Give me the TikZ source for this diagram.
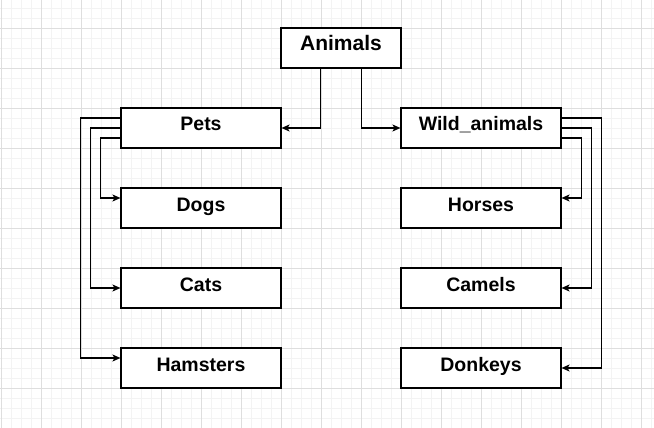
\documentclass[tikz,border=0pt]{standalone}
\usepackage{fontspec}
\setmainfont{Liberation Sans}
\usepackage{xcolor}
\usepackage{tikz}
\usetikzlibrary{arrows.meta}
\usetikzlibrary{calc}

\definecolor{gridminor}{HTML}{F3F3F3}
\definecolor{gridmajor}{HTML}{DEDEDE}

\tikzset{
    box/.style={draw, line width=1.1pt, fill=white, minimum width=160pt, minimum height=40pt, inner sep=0pt,
        text height=10pt, text depth=4pt, font=\bfseries\fontsize{19.5}{23}\selectfont},
    link/.style={line width=1.1pt, -{Stealth[length=8pt,width=7pt,inset=2pt]}},
}

\begin{document}
\begin{tikzpicture}[x=1pt, y=-1pt]
    \useasboundingbox (0,0) rectangle (654,428);
    \fill[white] (0,0) rectangle (654,428);

    \foreach \gx in {1,11,...,651} \draw[gridminor, line width=0.8pt] (\gx,0) -- (\gx,428);
    \foreach \gy in {8,18,...,428} \draw[gridminor, line width=0.8pt] (0,\gy) -- (654,\gy);
    \foreach \gx in {1,41,...,651} \draw[gridmajor, line width=0.8pt] (\gx,0) -- (\gx,428);
    \foreach \gy in {28,68,...,428} \draw[gridmajor, line width=0.8pt] (0,\gy) -- (654,\gy);

    \node[box, minimum width=120pt, font=\bfseries\fontsize{21}{25}\selectfont] (animals) at (341,48) {Animals};
    \node[box] (pets) at (201,128) {Pets};
    \node[box] (wild) at (481,128) {Wild\_animals};
    \node[box] (dogs) at (201,208) {Dogs};
    \node[box] (cats) at (201,288) {Cats};
    \node[box] (hamsters) at (201,368) {Hamsters};
    \node[box] (horses) at (481,208) {Horses};
    \node[box] (camels) at (481,288) {Camels};
    \node[box] (donkeys) at (481,368) {Donkeys};

    \draw[link] ([xshift=40pt]animals.south west) |- (pets.east);
    \draw[link] ([xshift=-40pt]animals.south east) |- (wild.west);

    \draw[link] ([yshift=-10pt]pets.west) -- ++(-20,0) |- ([yshift=10pt]dogs.west);
    \draw[link] (pets.west) -- ++(-30,0) |- (cats.west);
    \draw[link] ([yshift=10pt]pets.west) -- ++(-40,0) |- ([yshift=10pt]hamsters.west);

    \draw[link] ([yshift=-10pt]wild.east) -- ++(20,0) |- ([yshift=10pt]horses.east);
    \draw[link] (wild.east) -- ++(30,0) |- (camels.east);
    \draw[link] ([yshift=10pt]wild.east) -- ++(40,0) |- (donkeys.east);
\end{tikzpicture}
\end{document}
